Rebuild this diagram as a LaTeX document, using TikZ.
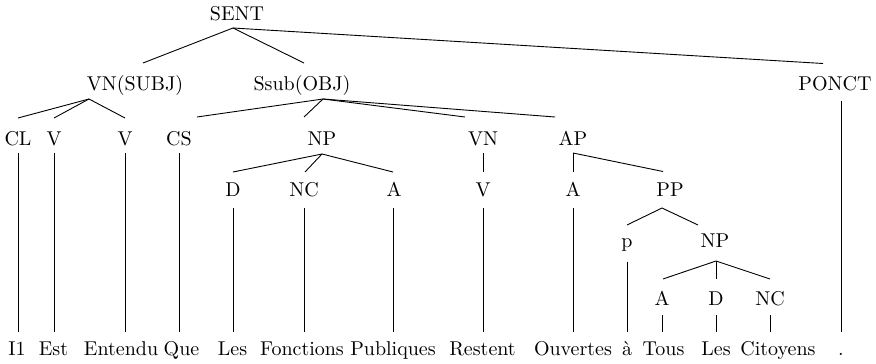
\documentclass[tikz,border=0pt]{standalone}
\usepackage{fontspec}
\setmainfont{lmroman10-regular}[Extension=.otf]
\begin{document}
\begin{tikzpicture}[x=1pt,y=-1pt,
  lab/.style={anchor=base,inner sep=0pt,font=\fontsize{20}{24}\selectfont},
  edge/.style={line width=0.9pt}]
\useasboundingbox (0,0) rectangle (876,364);

% labels of the tree, placed by their baselines
\node[lab] (sent)   at (237,20.7) {SENT};
\node[lab] (vnsubj) at (135,90) {VN(SUBJ)};
\node[lab] (ssub)   at (302,90) {Ssub(OBJ)};
\node[lab] (ponct)  at (835,90) {PONCT};

\node[lab] (cl)  at (18,145)  {CL};
\node[lab] (va)  at (54,145)  {V};
\node[lab] (vb)  at (125,145) {V};
\node[lab] (cs)  at (179,145) {CS};
\node[lab] (npa) at (322,145) {NP};
\node[lab] (vn)  at (483,145) {VN};
\node[lab] (ap)  at (573,145) {AP};

\node[lab] (da)  at (233,196.5) {D};
\node[lab] (nca) at (304,196.5) {NC};
\node[lab] (aa)  at (394,196.5) {A};
\node[lab] (vc)  at (483,196.5) {V};
\node[lab] (ab)  at (573,196.5) {A};
\node[lab] (pp)  at (670,196.5) {PP};

\node[lab] (p)   at (627,247) {p};
\node[lab] (npb) at (715,247) {NP};

\node[lab] (ac)  at (662,305) {A};
\node[lab] (db)  at (716,305) {D};
\node[lab] (ncb) at (770,305) {NC};

% the words of the sentence
\node[lab] (w1)  at (17,355)    {I1};
\node[lab] (w2)  at (53.5,355)  {Est};
\node[lab] (w3)  at (121,355)   {Entendu};
\node[lab] (w4)  at (181.5,355) {Que};
\node[lab] (w5)  at (232.5,355) {Les};
\node[lab] (w6)  at (302,355)   {Fonctions};
\node[lab] (w7)  at (393,355)   {Publiques};
\node[lab] (w8)  at (482.5,355) {Restent};
\node[lab] (w9)  at (573,355)   {Ouvertes};
\node[lab] (w10) at (627,355)   {à};
\node[lab] (w11) at (663.5,355) {Tous};
\node[lab] (w12) at (716,355)   {Les};
\node[lab] (w13) at (778,355)   {Citoyens};
\node[lab] (w14) at (841,355)   {.};

% branches
\draw[edge] ([shift={(-4,7.3)}]sent.base) -- ([shift={(8,-27)}]vnsubj.base);
\draw[edge] ([shift={(-4,7.3)}]sent.base) -- ([shift={(2,-27)}]ssub.base);
\draw[edge] ([shift={(-4,7.3)}]sent.base) -- ([shift={(-12,-26.5)}]ponct.base);

\draw[edge] ([shift={(-46,9)}]vnsubj.base) -- ([shift={(0,-27)}]cl.base);
\draw[edge] ([shift={(-46,9)}]vnsubj.base) -- ([shift={(0,-27)}]va.base);
\draw[edge] ([shift={(-46,9)}]vnsubj.base) -- ([shift={(0,-27)}]vb.base);

\draw[edge] ([shift={(21,9)}]ssub.base) -- ([shift={(18,-28)}]cs.base);
\draw[edge] ([shift={(21,9)}]ssub.base) -- ([shift={(-18,-28)}]npa.base);
\draw[edge] ([shift={(21,9)}]ssub.base) -- ([shift={(-18,-28)}]vn.base);
\draw[edge] ([shift={(21,9)}]ssub.base) -- ([shift={(-18,-28)}]ap.base);

\draw[edge] ([shift={(0,9)}]npa.base) -- ([shift={(0,-24.5)}]da.base);
\draw[edge] ([shift={(0,9)}]npa.base) -- ([shift={(1,-24.5)}]nca.base);
\draw[edge] ([shift={(0,9)}]npa.base) -- ([shift={(-1,-24.5)}]aa.base);

\draw[edge] ([shift={(0,8)}]vn.base) -- ([shift={(0,-25)}]vc.base);
\draw[edge] ([shift={(0,8)}]ap.base) -- ([shift={(0,-25)}]ab.base);
\draw[edge] ([shift={(0,8)}]ap.base) -- ([shift={(-7,-25)}]pp.base);

\draw[edge] ([shift={(-8,11.5)}]pp.base) -- ([shift={(0,-22)}]p.base);
\draw[edge] ([shift={(-8,11.5)}]pp.base) -- ([shift={(-17,-22)}]npb.base);

\draw[edge] ([shift={(1,14)}]npb.base) -- ([shift={(1,-26)}]ac.base);
\draw[edge] ([shift={(1,14)}]npb.base) -- ([shift={(0,-26)}]db.base);
\draw[edge] ([shift={(1,14)}]npb.base) -- ([shift={(0,-26)}]ncb.base);

% lexical branches down to the words
\draw[edge] ([shift={(0,8)}]cl.base)   -- ([shift={(1,-23)}]w1.base);
\draw[edge] ([shift={(0,8)}]va.base)   -- ([shift={(0.5,-23)}]w2.base);
\draw[edge] ([shift={(0,8)}]vb.base)   -- ([shift={(4,-23)}]w3.base);
\draw[edge] ([shift={(0,8)}]cs.base)   -- ([shift={(-2.5,-23)}]w4.base);
\draw[edge] ([shift={(0,11)}]da.base)  -- ([shift={(0.5,-23)}]w5.base);
\draw[edge] ([shift={(0,11)}]nca.base) -- ([shift={(2,-23)}]w6.base);
\draw[edge] ([shift={(-1,11)}]aa.base) -- ([shift={(0,-23)}]w7.base);
\draw[edge] ([shift={(0,11)}]vc.base)  -- ([shift={(0.5,-23)}]w8.base);
\draw[edge] ([shift={(0,11)}]ab.base)  -- ([shift={(0,-23)}]w9.base);
\draw[edge] ([shift={(0,14.7)}]p.base) -- ([shift={(0,-23)}]w10.base);
\draw[edge] ([shift={(0,10)}]ac.base)  -- ([shift={(-1.5,-23)}]w11.base);
\draw[edge] ([shift={(0,10)}]db.base)  -- ([shift={(0,-23)}]w12.base);
\draw[edge] ([shift={(0,10)}]ncb.base) -- ([shift={(-8,-23)}]w13.base);
\draw[edge] ([shift={(6,11)}]ponct.base) -- ([shift={(0,-23)}]w14.base);
\end{tikzpicture}
\end{document}
